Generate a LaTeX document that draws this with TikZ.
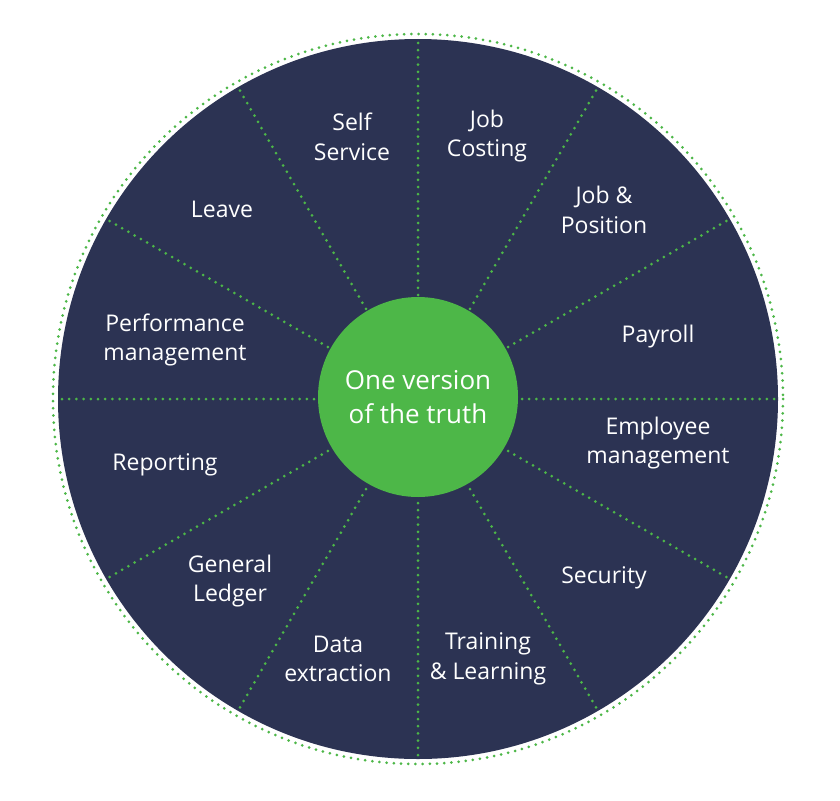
\documentclass[tikz,border=0pt]{standalone}
\usepackage{fontspec}
\setmainfont{Open Sans}
\usetikzlibrary{calc}
\definecolor{navy}{HTML}{2C3353}
\definecolor{leaf}{HTML}{4DB748}
\begin{document}
\begin{tikzpicture}[x=1pt,y=-1pt,
  lbl/.style={text=white,align=center,font=\fontsize{23}{29.5}\selectfont},
  dots/.style={leaf,line width=3pt,line cap=round,dash pattern=on 0pt off 7.2pt}]
\useasboundingbox (0,0) rectangle (840,800);
\coordinate (c) at (418,399);
\fill[navy] (c) circle[radius=360];
\draw[dots] (c) circle[radius=365];
\foreach \a in {0,30,...,330}{
  \coordinate (s\a) at ($(c)+(\a:104)$);
  \coordinate (e\a) at ($(c)+(\a:358)$);
  \draw[dots] (s\a) -- (e\a);
}
\node[circle,fill=leaf,minimum size=200pt,inner sep=0pt,text=white,align=center,
  font=\fontsize{26}{34}\selectfont] (hub) at (418,397) {One version\\of the truth};
\node[lbl] (n1) at (352,137) {Self\\Service};
\node[lbl] (n2) at (487,136) {Job\\Costing};
\node[lbl] (n3) at (604,210) {Job \&\\Position};
\node[lbl] (n4) at (658,337) {Payroll};
\node[lbl] (n5) at (658,443) {Employee\\management};
\node[lbl] (n6) at (604,578) {Security};
\node[lbl] (n7) at (488,659) {Training\\\& Learning};
\node[lbl] (n8) at (338,659) {Data\\extraction};
\node[lbl] (n9) at (230,581) {General\\Ledger};
\node[lbl] (n10) at (165,465) {Reporting};
\node[lbl] (n11) at (175,340) {Performance\\management};
\node[lbl] (n12) at (222,209) {Leave};
\end{tikzpicture}
\end{document}
